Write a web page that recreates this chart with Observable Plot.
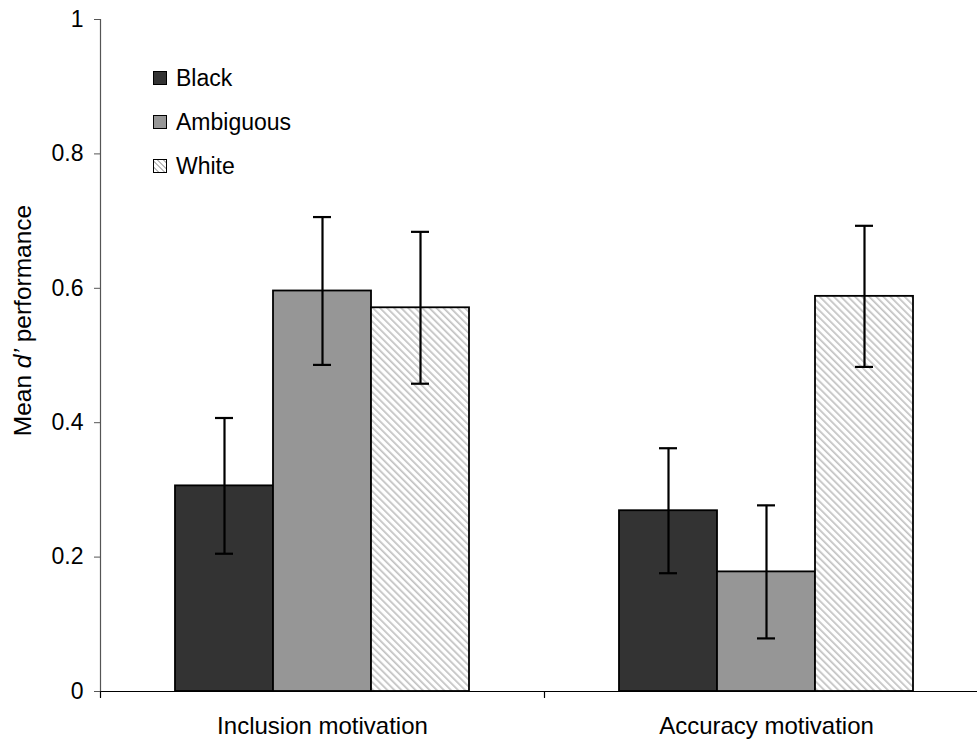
<!DOCTYPE html>
<html>
<head>
<meta charset="utf-8">
<script src="https://cdn.jsdelivr.net/npm/d3@7"></script>
<script src="https://cdn.jsdelivr.net/npm/@observablehq/plot@0.6"></script>
<style>
  html, body { margin: 0; padding: 0; background: white; overflow: hidden; }
  #wrap { position: relative; width: 977px; height: 744px; }
  #wrap svg { overflow: hidden; }
  #legend { position: absolute; left: 153px; top: 56px; font-family: Arial, "Liberation Sans", Helvetica, sans-serif; font-size: 23px; color: black; }
  .row { height: 44px; display: flex; align-items: center; }
  .sw { width: 14px; height: 14px; box-sizing: border-box; border: 1.6px solid black; margin-right: 9px; }
</style>
</head>
<body>
<div id="wrap"><div id="legend"></div></div>
<script>
const groups = ["Inclusion motivation", "Accuracy motivation"];
const series = ["Black", "Ambiguous", "White"];
const inclusionMeans = [0.306, 0.596, 0.571];
const accuracyMeans = [0.269, 0.178, 0.588];
const inclusionErrors = [0.101, 0.110, 0.113];
const accuracyErrors = [0.093, 0.099, 0.105];
const yTicks = [0, 0.2, 0.4, 0.6, 0.8, 1];
const yTickLabels = ["0", "0.2", "0.4", "0.6", "0.8", "1"];
const yLabel = "Mean d’ performance";
const seriesFills = ["#333333", "#969696", "url(#hatch)"];
const legendFills = ["#333333", "#969696", "repeating-linear-gradient(45deg, #ffffff 0px, #ffffff 2.5px, #bdbdbd 2.5px, #bdbdbd 4px)"];

const data = [];
series.forEach((s, i) => {
  data.push({group: groups[0], series: s, mean: inclusionMeans[i], err: inclusionErrors[i]});
  data.push({group: groups[1], series: s, mean: accuracyMeans[i], err: accuracyErrors[i]});
});

const tickShape = {draw(context, l) { context.moveTo(0, 0); context.lineTo(0, -l); }};

const chart = Plot.plot({
  width: 977,
  height: 744,
  marginLeft: 100,
  marginRight: -11,
  marginTop: 19,
  marginBottom: 53,
  style: {fontFamily: "Arial, 'Liberation Sans', Helvetica, sans-serif", fontSize: "23px", color: "black", background: "white", overflow: "hidden"},
  fx: {domain: groups, padding: 0, label: null},
  x: {domain: series, paddingInner: 0, paddingOuter: 0.75, axis: null, label: null},
  y: {domain: [0, 1], label: null},
  color: {domain: series, range: seriesFills},
  marks: [
    Plot.barY(data, {fx: "group", x: "series", y: "mean", fill: "series", stroke: "black", strokeWidth: 1.8}),
    Plot.ruleX(data, {fx: "group", x: "series", y1: d => d.mean - d.err, y2: d => d.mean + d.err, stroke: "black", strokeWidth: 2.2}),
    Plot.tickY(data, {fx: "group", x: "series", y: d => d.mean - d.err, inset: 40, stroke: "black", strokeWidth: 2.2}),
    Plot.tickY(data, {fx: "group", x: "series", y: d => d.mean + d.err, inset: 40, stroke: "black", strokeWidth: 2.2}),
    Plot.ruleY([0], {stroke: "black", strokeWidth: 1.2}),
    Plot.frame({anchor: "left", facetAnchor: "left", stroke: "#555", strokeWidth: 1.2}),
    Plot.vector([0], {frameAnchor: "bottom-left", length: 6, rotate: 180, anchor: "start", shape: tickShape, stroke: "black", strokeWidth: 1.2}),
    Plot.axisY({ticks: yTicks, tickFormat: d => yTickLabels[yTicks.indexOf(d)], tickSize: 6, tickPadding: 11, label: null, stroke: "#555"}),
    Plot.axisFx({anchor: "bottom", tickSize: 0, tickPadding: 25, label: null, fontSize: 24}),
    Plot.text([yLabel], {frameAnchor: "left", facetAnchor: "left", rotate: -90, dx: -77, dy: -35, textAnchor: "middle", lineAnchor: "middle", fontSize: 24.5})
  ]
});

// hatch pattern for the White series
const ns = "http://www.w3.org/2000/svg";
const defs = document.createElementNS(ns, "defs");
defs.innerHTML = '<pattern id="hatch" patternUnits="userSpaceOnUse" width="5" height="5" patternTransform="rotate(-45)">' +
  '<rect width="5" height="5" fill="#ffffff"/><rect x="0" y="0" width="1.7" height="5" fill="#c2c2c2"/></pattern>';
chart.insertBefore(defs, chart.firstChild);

// italic d’ in the y label
chart.querySelectorAll("text").forEach(t => {
  if (t.textContent === yLabel) {
    t.textContent = "";
    const a = document.createElementNS(ns, "tspan"); a.textContent = "Mean ";
    const b = document.createElementNS(ns, "tspan"); b.textContent = "d’"; b.setAttribute("font-style", "italic");
    const c = document.createElementNS(ns, "tspan"); c.textContent = " performance";
    t.append(a, b, c);
  }
});

document.getElementById("wrap").prepend(chart);

const legend = document.getElementById("legend");
series.forEach((s, i) => {
  const row = document.createElement("div");
  row.className = "row";
  const sw = document.createElement("div");
  sw.className = "sw";
  sw.style.background = legendFills[i];
  const label = document.createElement("span");
  label.textContent = s;
  row.append(sw, label);
  legend.append(row);
});
</script>
</body>
</html>
